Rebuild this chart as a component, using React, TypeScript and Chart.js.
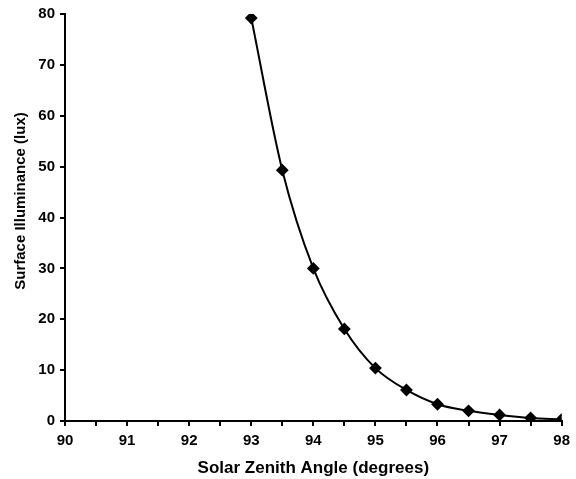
import React, { useEffect, useRef } from "react";
import { Chart, registerables } from "chart.js";

Chart.register(...registerables);

const zenithAngles = [93, 93.5, 94, 94.5, 95, 95.5, 96, 96.5, 97, 97.5, 98];
const illuminance = [79.2, 49.3, 30.0, 18.1, 10.4, 6.1, 3.3, 2.0, 1.2, 0.6, 0.3];
const xTitle = "Solar Zenith Angle (degrees)";
const yTitle = "Surface Illuminance (lux)";

const font = "'Liberation Sans', Arial, Helvetica, sans-serif";

const yTitlePlugin = {
  id: "yTitlePlugin",
  afterDraw(chart: any) {
    const ctx = chart.ctx;
    ctx.save();
    ctx.translate(21, 201);
    ctx.rotate(-Math.PI / 2);
    ctx.font = `bold 15px ${font}`;
    ctx.fillStyle = "#000";
    ctx.textAlign = "center";
    ctx.textBaseline = "middle";
    ctx.fillText(yTitle, 0, 0);
    ctx.restore();
  },
};

export default function App() {
  const ref = useRef<HTMLCanvasElement | null>(null);
  useEffect(() => {
    if (!ref.current) return;
    const chart = new Chart(ref.current, {
      type: "line",
      data: {
        datasets: [
          {
            data: zenithAngles.map((x, i) => ({ x, y: illuminance[i] })),
            borderColor: "#000",
            backgroundColor: "#000",
            borderWidth: 2,
            pointStyle: "rectRot",
            pointRadius: 5,
            pointHoverRadius: 5,
            cubicInterpolationMode: "monotone",
          },
        ],
      },
      plugins: [yTitlePlugin],
      options: {
        animation: false,
        responsive: false,
        maintainAspectRatio: false,
        layout: { padding: { top: 14, right: 14, left: 0, bottom: 0 } },
        plugins: { legend: { display: false }, tooltip: { enabled: false } },
        scales: {
          x: {
            type: "linear",
            min: 90,
            max: 98,
            border: { display: true, color: "#000", width: 2 },
            grid: { drawOnChartArea: false, drawTicks: true, tickLength: 5, color: "#000", lineWidth: 2 },
            ticks: {
              stepSize: 0.5,
              autoSkip: false,
              maxRotation: 0,
              color: "#000",
              font: { family: font, size: 15, weight: "bold" },
              padding: 6,
              callback: (v: any) => (Number.isInteger(Number(v)) ? String(v) : ""),
            },
            title: {
              display: true,
              text: xTitle,
              color: "#000",
              font: { family: font, size: 17, weight: "bold" },
              padding: { top: 4, bottom: 0 },
            },
            afterFit: (s: any) => {
              s.height = 58;
            },
          },
          y: {
            type: "linear",
            min: 0,
            max: 80,
            border: { display: true, color: "#000", width: 2 },
            grid: { drawOnChartArea: false, drawTicks: true, tickLength: 5, color: "#000", lineWidth: 2 },
            ticks: {
              stepSize: 10,
              color: "#000",
              font: { family: font, size: 15, weight: "bold" },
              padding: 5,
            },
            afterFit: (s: any) => {
              s.width = 65;
            },
          },
        },
      },
    });
    return () => chart.destroy();
  }, []);
  return (
    <div style={{ position: "fixed", left: 0, top: 0, width: 576, height: 479, background: "#fff" }}>
      <canvas ref={ref} width={576} height={479} style={{ width: 576, height: 479 }} />
    </div>
  );
}
